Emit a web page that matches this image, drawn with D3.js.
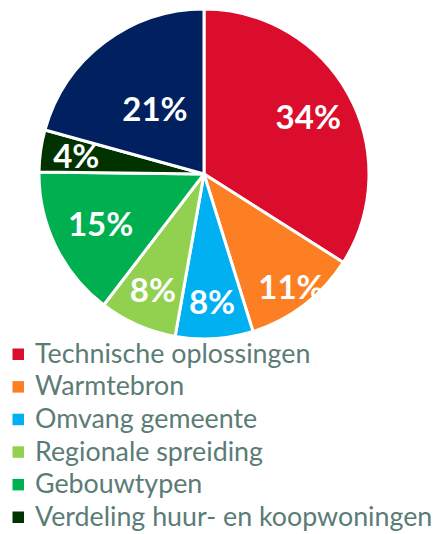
<!DOCTYPE html>
<html>
<head>
<meta charset="utf-8">
<script src="https://cdn.jsdelivr.net/npm/d3@7"></script>
<style>
  body { margin: 0; background: #fff; }
  svg { display: block; }
</style>
</head>
<body>
<div id="graphicContainer"></div>
<script>
// categories, values (share in %) and shown labels
var categories = ["Technische oplossingen", "Warmtebron", "Omvang gemeente", "Regionale spreiding", "Gebouwtypen", "Verdeling huur- en koopwoningen", "Overig"]
var values = [34.0, 11.2, 7.6, 7.6, 14.8, 4.1, 20.7]
var labels = ["34%", "11%", "8%", "8%", "15%", "4%", "21%"]
var colors = ["#DA0E2C", "#FD7F23", "#00B0F0", "#92D050", "#00B050", "#003300", "#002060"]
var legendCount = 6

// label distance from centre, per slice (layout only)
var labelRadius = [119, 143, 128, 127, 115, 129, 81]

var width = 442, height = 534
var cx = 204, cy = 174, radius = 165

var svg = d3.select("#graphicContainer").append("svg")
  .attr("width", width)
  .attr("height", height)

var data = values.map(function (v, i) {
  return { name: categories[i], value: v, label: labels[i], color: colors[i], lr: labelRadius[i] }
})

var pie = d3.pie().sort(null).value(function (d) { return d.value })
var arc = d3.arc().innerRadius(0).outerRadius(radius)

var features = svg.append("g").attr("transform", "translate(" + cx + "," + cy + ")")

features.selectAll(".slice")
  .data(pie(data))
  .enter().append("path")
  .attr("class", "slice")
  .attr("d", arc)
  .style("fill", function (d) { return d.data.color })
  .style("stroke", "#fff")
  .style("stroke-width", 3)
  .style("stroke-linejoin", "round")

features.selectAll(".lbl")
  .data(pie(data))
  .enter().append("text")
  .attr("class", "lbl")
  .attr("transform", function (d) {
    var a = (d.startAngle + d.endAngle) / 2
    return "translate(" + (Math.sin(a) * d.data.lr) + "," + (-Math.cos(a) * d.data.lr) + ")"
  })
  .attr("text-anchor", "middle")
  .attr("dy", "0.36em")
  .style("font-family", "Lato, 'Open Sans', sans-serif")
  .style("font-weight", "bold")
  .style("font-size", "33px")
  .style("fill", "#fff")
  .text(function (d) { return d.data.label })

// legend
var legend = svg.append("g").attr("transform", "translate(12,354)")

var rows = legend.selectAll(".row")
  .data(data.slice(0, legendCount))
  .enter().append("g")
  .attr("class", "row")
  .attr("transform", function (d, i) { return "translate(0," + (i * 32.6) + ")" })

rows.append("rect")
  .attr("x", 0.5)
  .attr("y", -5.5)
  .attr("width", 11.5)
  .attr("height", 11.5)
  .style("fill", function (d) { return d.color })

rows.append("text")
  .attr("x", 23)
  .attr("dy", "0.33em")
  .style("font-family", "Lato, sans-serif")
  .style("font-size", "26.8px")
  .style("fill", "#5B7C76")
  .text(function (d) { return d.name })
</script>
</body>
</html>
